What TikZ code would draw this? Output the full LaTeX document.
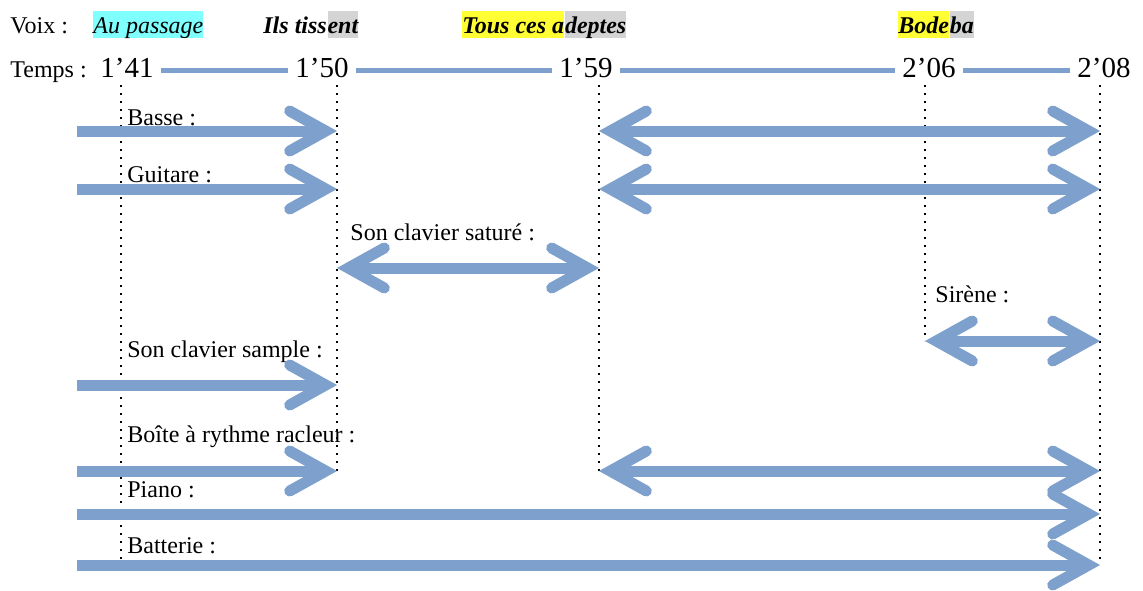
\documentclass[tikz,border=0pt]{standalone}
\usepackage{fontspec}
\setmainfont{Liberation Serif}
\usetikzlibrary{arrows.meta}
\definecolor{bar-blue}{RGB}{126,160,205}
\definecolor{hl-cyan}{RGB}{128,255,255}
\definecolor{hl-yellow}{RGB}{255,255,51}
\definecolor{hl-gray}{RGB}{212,212,212}
\tikzset{
    row-label/.style = {anchor=base west, inner sep=0pt, font=\fontsize{12}{14}\selectfont},
    lyric/.style = {row-label, text height=11pt, text depth=2.5pt, font=\fontsize{12}{14}\selectfont\itshape},
    lyric-bold/.style = {lyric, font=\fontsize{12}{14}\selectfont\bfseries\itshape},
    time-label/.style = {anchor=base, inner xsep=3.5pt, inner ysep=0pt, text height=9.8pt, text depth=2.8pt, font=\fontsize{14.5}{17}\selectfont},
    time-line/.style = {draw=bar-blue, line width=2.5pt},
    guide/.style = {draw=black, line width=1.1pt, dash pattern=on 1.1pt off 2.9pt},
    flow-arrow/.style = {draw=bar-blue, line width=5.5pt, -{Straight Barb[length=18pt, width=20pt, line cap=round, line join=miter]},
        preaction={draw=black!12, transform canvas={shift={(0.6pt,-1.2pt)}}}},
    both-arrow/.style = {flow-arrow, {Straight Barb[length=18pt, width=20pt, line cap=round, line join=miter]}-{Straight Barb[length=18pt, width=20pt, line cap=round, line join=miter]}},
}

\begin{document}
\begin{tikzpicture}[x=0.5pt, y=-0.5pt]
\useasboundingbox (0,0) rectangle (1143,590);

% voices
\node[row-label] (voix) at (10,33) {Voix :};
\node[lyric, fill=hl-cyan] (au-passage) at (93,33) {Au passage};
\node[lyric-bold] (ils-tiss) at (263,33) {Ils tiss};
\node[lyric-bold, fill=hl-gray] (ils-ent) at (ils-tiss.base east) {ent};
\node[lyric-bold, fill=hl-yellow] (tous) at (462,33) {Tous ces a};
\node[lyric-bold, fill=hl-gray] (deptes) at (tous.base east) {deptes};
\node[lyric-bold, fill=hl-yellow] (bode) at (898,33) {Bode};
\node[lyric-bold, fill=hl-gray] (ba) at (bode.base east) {ba};

% time axis
\node[row-label] (temps) at (10,77) {Temps :};
\node[time-label] (t141) at (127,77) {1’41};
\node[time-label] (t150) at (322,77) {1’50};
\node[time-label] (t159) at (586,77) {1’59};
\node[time-label] (t206) at (929,77) {2’06};
\node[time-label] (t208) at (1104,77) {2’08};
\draw[time-line] (t141) -- (t150);
\draw[time-line] (t150) -- (t159);
\draw[time-line] (t159) -- (t206);
\draw[time-line] (t206) -- (t208);

\coordinate (g141) at (121,85);
\coordinate (g150) at (337,85);
\coordinate (g159) at (599,85);
\coordinate (g206) at (925,85);
\coordinate (g208) at (1100,85);
\coordinate (start) at (77,0);
\coordinate (bottom) at (0,560);

% rows
\coordinate (basse-row) at (0,131);
\coordinate (guitare-row) at (0,189);
\coordinate (sature-row) at (0,268);
\coordinate (sirene-row) at (0,341);
\coordinate (sample-row) at (0,385);
\coordinate (boite-row) at (0,471);
\coordinate (piano-row) at (0,514);
\coordinate (batterie-row) at (0,565);

\draw[guide] (g141) -- (g141 |- bottom);
\draw[guide] (g150) -- (g150 |- boite-row);
\draw[guide] (g159) -- (g159 |- boite-row);
\draw[guide] (g206) -- (g206 |- sirene-row);
\draw[guide] (g208) -- (g208 |- bottom);

\node[row-label] (basse) at (127,125) {Basse :};
\node[row-label] (guitare) at (127,182) {Guitare :};
\node[row-label] (sature) at (350,240) {Son clavier saturé :};
\node[row-label] (sirene) at (935,302) {Sirène :};
\node[row-label] (sample) at (127,357) {Son clavier sample :};
\node[row-label] (boite) at (127,442) {Boîte à rythme racleur :};
\node[row-label] (piano) at (127,497) {Piano :};
\node[row-label] (batterie) at (127,553) {Batterie :};

\draw[flow-arrow] (start |- basse-row) -- (g150 |- basse-row);
\draw[both-arrow] (g159 |- basse-row) -- (g208 |- basse-row);
\draw[flow-arrow] (start |- guitare-row) -- (g150 |- guitare-row);
\draw[both-arrow] (g159 |- guitare-row) -- (g208 |- guitare-row);
\draw[both-arrow] (g150 |- sature-row) -- (g159 |- sature-row);
\draw[both-arrow] (g206 |- sirene-row) -- (g208 |- sirene-row);
\draw[flow-arrow] (start |- sample-row) -- (g150 |- sample-row);
\draw[flow-arrow] (start |- boite-row) -- (g150 |- boite-row);
\draw[both-arrow] (g159 |- boite-row) -- (g208 |- boite-row);
\draw[flow-arrow] (start |- piano-row) -- (g208 |- piano-row);
\draw[flow-arrow] (start |- batterie-row) -- (g208 |- batterie-row);
\end{tikzpicture}
\end{document}
